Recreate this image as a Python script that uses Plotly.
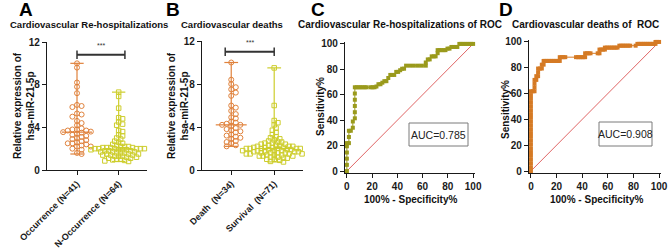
import plotly.graph_objects as go
import numpy as np

W, H = 669, 251

# ---------------- data ----------------
cat_A = ["Occurrence (N=41)", "N-Occurrence (N=64)"]
cat_B = ["Death  (N=34)", "Survival  (N=71)"]

occurrence = [10.0, 9.6, 8.2, 7.8, 7.2, 6.1, 6.0, 5.9, 5.3, 5.2, 5.0, 4.6, 4.4, 4.2,
              3.9, 3.8, 3.8, 3.7, 3.7, 3.6, 3.55, 3.5, 3.4, 3.3, 3.2, 3.1, 3.0, 2.9,
              2.8, 2.7, 2.6, 2.5, 2.5, 2.4, 2.3, 2.2, 2.2, 2.0, 1.9, 1.6, 1.5]
n_occurrence = [7.3, 6.9, 5.8, 4.9, 4.8, 4.5, 4.3, 4.2, 3.7, 3.6, 3.3, 3.2, 3.0, 2.9,
                2.7, 2.6, 2.5, 2.4, 2.3, 2.2, 2.2, 2.2, 2.1, 2.1, 2.1, 2.1,
                2.0, 2.0, 2.0, 2.0, 2.0, 2.0, 1.9, 1.9, 1.9, 1.9, 1.8, 1.8, 1.8,
                1.7, 1.7, 1.7, 1.6, 1.6, 1.6, 1.5, 1.5, 1.5, 1.4, 1.4, 1.4,
                1.3, 1.3, 1.3, 1.2, 1.2, 1.1, 1.1, 1.0, 1.0, 0.95, 0.9, 0.85, 0.8]
death = [10.0, 8.4, 8.0, 7.7, 7.5, 7.2, 6.9, 6.0, 5.8, 5.5, 5.2, 4.9, 4.8, 4.5,
         4.4, 4.3, 4.2, 4.2, 4.1, 3.9, 3.8, 3.7, 3.6, 3.5, 3.3, 3.2, 3.1, 3.0,
         2.9, 2.7, 2.6, 2.5, 2.3, 2.2]
survival = [9.5, 6.0, 4.6, 4.4, 4.2, 3.9, 3.7, 3.5, 3.3, 3.1, 3.0, 2.9, 2.8, 2.7,
            2.6, 2.6, 2.5, 2.5, 2.4, 2.4, 2.3, 2.3, 2.3, 2.2, 2.2, 2.2,
            2.1, 2.1, 2.1, 2.1, 2.0, 2.0, 2.0, 2.0, 2.0, 2.0,
            1.9, 1.9, 1.9, 1.9, 1.8, 1.8, 1.8, 1.8, 1.7, 1.7, 1.7, 1.7,
            1.6, 1.6, 1.6, 1.6, 1.5, 1.5, 1.5, 1.5, 1.4, 1.4, 1.4,
            1.3, 1.3, 1.3, 1.2, 1.2, 1.1, 1.1, 1.0, 1.0, 0.9, 0.8, 0.75]

roc_C = [(0, 0), (0, 4.9), (0, 9.8), (0, 14.6), (0, 19.5), (0, 22.0),
         (1.6, 22.0), (1.6, 26.8), (1.6, 31.7), (3.1, 31.7), (4.7, 34.1), (4.7, 39.0),
         (6.3, 41.5), (6.3, 46.3), (6.3, 51.2), (6.3, 56.1), (6.3, 61.0), (6.3, 65.9),
         (7.8, 65.9), (9.4, 65.9), (10.9, 65.9), (12.5, 65.9), (14.1, 65.9), (15.6, 65.9),
         (18.8, 65.9), (20.3, 65.9), (21.9, 65.9), (23.4, 66.5), (25.0, 68.3), (26.6, 68.3),
         (28.1, 69.5), (29.7, 70.7), (31.3, 70.7), (32.8, 73.2), (34.4, 75.6), (35.9, 75.6),
         (37.5, 75.6), (39.1, 78.0), (40.6, 78.0), (42.2, 79.3), (43.8, 80.5), (45.3, 80.5),
         (46.9, 82.9), (50.0, 82.9), (53.1, 82.9), (56.3, 82.9), (59.4, 82.9), (62.5, 82.9),
         (62.5, 85.4), (64.1, 87.8), (65.6, 87.8), (67.2, 90.2), (68.8, 90.2), (70.3, 90.2),
         (71.9, 92.7), (71.9, 95.1), (73.4, 95.1), (75.0, 95.1), (76.6, 95.1), (78.1, 95.1),
         (79.7, 96.3), (81.3, 96.3), (82.8, 97.6), (84.4, 97.6), (85.9, 97.6), (87.5, 97.6),
         (89.1, 100), (90.6, 100), (92.2, 100), (93.8, 100), (95.3, 100), (96.9, 100),
         (98.4, 100), (100, 100)]
roc_D = [(0, 0), (0, 2.9), (0, 5.9), (0, 8.8), (0, 11.8), (0, 14.7), (0, 17.6), (0, 20.6),
         (0, 23.5), (0, 26.5), (0, 29.4), (0, 32.4), (0, 35.3), (0, 38.2), (0, 41.2),
         (0, 44.1), (0, 47.1), (0, 50.0), (0, 52.9), (0, 55.9), (0, 58.8), (0, 61.8),
         (1.4, 61.8), (2.8, 61.8), (2.8, 64.7), (2.8, 67.6), (2.8, 70.6), (4.2, 70.6),
         (4.2, 73.5), (5.6, 73.5), (5.6, 76.5), (5.6, 79.4), (7.0, 79.4), (8.5, 79.4),
         (8.5, 82.4), (9.9, 82.4), (9.9, 85.3), (11.3, 85.3), (12.7, 85.3), (14.1, 85.3),
         (15.5, 85.3), (16.9, 85.3), (18.3, 85.3), (19.7, 85.3), (21.1, 85.3), (22.5, 85.3),
         (22.5, 88.2), (23.9, 88.2), (25.4, 88.2), (26.8, 88.2), (35.2, 88.2), (36.6, 88.2),
         (38.0, 88.2), (39.4, 88.2), (40.8, 88.2), (42.3, 88.2), (42.3, 91.2), (43.7, 91.2),
         (45.1, 91.2), (46.5, 91.2), (52.1, 91.2), (53.5, 91.2), (53.5, 94.1), (54.9, 94.1),
         (56.3, 94.1), (57.7, 94.1), (57.7, 95.6), (59.2, 95.6), (60.6, 95.6), (62.0, 95.6),
         (63.4, 95.6), (64.8, 95.6), (66.2, 95.6), (67.6, 95.6), (69.0, 97.1), (70.4, 97.1),
         (71.8, 97.1), (73.2, 97.1), (74.6, 97.1), (76.1, 97.1), (77.5, 97.1), (81.7, 97.1),
         (83.1, 98.5), (84.5, 98.5), (85.9, 98.5), (87.3, 98.5), (88.7, 98.5), (90.1, 98.5),
         (91.5, 98.5), (93.0, 98.5), (94.4, 98.5), (95.8, 98.5), (97.2, 98.5), (97.2, 100),
         (98.6, 100), (100, 100)]
auc_C = 0.785
auc_D = 0.908

titles = ["Cardiovascular Re-hospitalizations", "Cardiovascular deaths",
          "Cardiovascular Re-hospitalizations of ROC", "Cardiovascular deaths of  ROC"]
letters = ["A", "B", "C", "D"]

# ---------------- style ----------------
FONT = "Arial, Liberation Sans, sans-serif"
ORANGE = "#E0823C"
YELLOW = "#CDCD2C"
OLIVE = "#9A9A1C"
DORANGE = "#D57A24"
RED = "#E06565"
AXC = "#1a1a1a"


def px(x):
    return x / W


def py(y):
    return 1 - y / H


def swarm(vals, ky, kx, d):
    placed = []
    order = np.argsort(-np.array(vals))
    res = [0.0] * len(vals)
    cands = [0.0]
    for i in range(1, 60):
        cands += [i * d * 0.55, -i * d * 0.55]
    for idx in order:
        yy = vals[idx] * ky
        for c in cands:
            if all((c - a) ** 2 + (yy - b) ** 2 >= d * d for a, b in placed):
                break
        placed.append((c, yy))
        res[idx] = c / kx
    return res


fig = go.Figure()


def dot_group(xc, vals, color, symbol, xa, ya, ky, kx, d, size, med_w=0.36, cap_w=0.16):
    offs = swarm(vals, ky, kx, d)
    fig.add_trace(go.Scatter(
        x=[xc + o for o in offs], y=vals, mode="markers", xaxis=xa, yaxis=ya,
        marker=dict(symbol=symbol, size=size, color=color, line=dict(color=color, width=1)),
        cliponaxis=False, hoverinfo="skip"))
    lo, hi, med = min(vals), max(vals), float(np.median(vals))
    ln = dict(color=color, width=1.2)
    fig.add_trace(go.Scatter(x=[xc, xc], y=[lo, hi], mode="lines", line=ln, xaxis=xa, yaxis=ya, hoverinfo="skip"))
    for v, w in ((lo, cap_w), (hi, cap_w), (med, med_w)):
        fig.add_trace(go.Scatter(x=[xc - w, xc + w], y=[v, v], mode="lines", line=ln,
                                 xaxis=xa, yaxis=ya, hoverinfo="skip"))


# Panel A
dot_group(0, occurrence, ORANGE, "circle-open", "x", "y", 10.67, 41.7, 4.2, 5)
dot_group(1, n_occurrence, YELLOW, "square-open", "x", "y", 10.67, 41.7, 3.6, 4.5)
# Panel B
dot_group(0, death, ORANGE, "circle-open", "x2", "y2", 10.75, 43.3, 4.2, 5)
dot_group(1, survival, YELLOW, "square-open", "x2", "y2", 10.75, 43.3, 3.4, 4.5)

# ROC C / D
for roc, col, xa, ya in ((roc_C, OLIVE, "x3", "y3"), (roc_D, DORANGE, "x4", "y4")):
    fig.add_trace(go.Scatter(x=[0, 100], y=[0, 100], mode="lines", line=dict(color=RED, width=1),
                             xaxis=xa, yaxis=ya, hoverinfo="skip"))
    fig.add_trace(go.Scatter(x=[p[0] for p in roc], y=[p[1] for p in roc], mode="lines+markers",
                             line=dict(color=col, width=1),
                             marker=dict(symbol="square", size=4, color=col),
                             xaxis=xa, yaxis=ya, cliponaxis=False, hoverinfo="skip"))

tickfont = dict(family=FONT, size=10, color=AXC, weight="bold")
catfont = dict(family=FONT, size=9, color=AXC, weight="bold")
common = dict(showline=True, linecolor=AXC, linewidth=1.3, ticks="outside", ticklen=4,
              tickwidth=1.2, tickcolor=AXC, showgrid=False, zeroline=False,
              fixedrange=True)

fig.update_layout(
    width=W, height=H, margin=dict(l=0, r=0, t=0, b=0, autoexpand=False),
    paper_bgcolor="white", plot_bgcolor="white", showlegend=False,
    xaxis=dict(domain=[px(47), px(147)], range=[-0.72, 1.68], anchor="y",
               tickvals=[0, 1], ticktext=cat_A, tickangle=-45, tickfont=catfont, **common),
    yaxis=dict(domain=[py(170), py(42)], range=[0, 12], anchor="x",
               tickvals=[0, 4, 8, 12], tickfont=tickfont, **common),
    xaxis2=dict(domain=[px(202), px(303)], range=[-0.68, 1.67], anchor="y2",
                tickvals=[0, 1], ticktext=cat_B, tickangle=-45, tickfont=catfont, **common),
    yaxis2=dict(domain=[py(170), py(41)], range=[0, 12], anchor="x2",
                tickvals=[0, 4, 8, 12], tickfont=tickfont, **common),
    xaxis3=dict(domain=[px(345), px(475)], range=[-1.5, 101.5], anchor="y3",
                tickvals=[0, 20, 40, 60, 80, 100], tickfont=tickfont, **common),
    yaxis3=dict(domain=[py(173), py(42)], range=[-1.5, 101.5], anchor="x3",
                tickvals=[0, 20, 40, 60, 80, 100], tickfont=tickfont, **common),
    xaxis4=dict(domain=[px(529), px(661)], range=[-1.5, 101.5], anchor="y4",
                tickvals=[0, 20, 40, 60, 80, 100], tickfont=tickfont, **common),
    yaxis4=dict(domain=[py(173), py(40)], range=[-1.5, 101.5], anchor="x4",
                tickvals=[0, 20, 40, 60, 80, 100], tickfont=tickfont, **common),
)

# significance bars
for xa, ya, x0, x1, yv in (("x", "y", 0, 1.15, 10.8), ("x2", "y2", -0.14, 1.0, 11.0)):
    fig.add_shape(type="line", xref=xa, yref=ya, x0=x0, x1=x1, y0=yv, y1=yv,
                  line=dict(color="#333", width=2))
    for xx in (x0, x1):
        fig.add_shape(type="line", xref=xa, yref=ya, x0=xx, x1=xx, y0=yv - 0.4, y1=yv + 0.4,
                      line=dict(color="#333", width=1.5))
    fig.add_annotation(x=(x0 + x1) / 2, y=yv + 0.35, xref=xa, yref=ya, text="***",
                       showarrow=False, xanchor="center", yanchor="bottom",
                       font=dict(family=FONT, size=7, color="#333"))


def note(x, y, text, size, weight="bold", angle=0, color="#111"):
    fig.add_annotation(x=px(x), y=py(y), xref="paper", yref="paper", text=text,
                       showarrow=False, xanchor="center", yanchor="middle", textangle=angle,
                       font=dict(family=FONT, size=size, color=color, weight=weight))


# AUC boxes
for (x0, x1, y0, y1), auc in (((409, 468, 123, 146), auc_C), ((599, 652, 122, 146), auc_D)):
    fig.add_shape(type="rect", xref="paper", yref="paper", x0=px(x0), x1=px(x1),
                  y0=py(y1), y1=py(y0), line=dict(color="#7a7a7a", width=1))
    note((x0 + x1) / 2, (y0 + y1) / 2, f"AUC={auc}", 10.5, weight="normal", color="#222")

# titles and letters
for t, cx, fs in zip(titles, (89, 232, 400, 585), (9.5, 9.5, 10, 10)):
    note(cx, 24, t, fs)
for l, cx in zip(letters, (26, 173, 318, 506)):
    note(cx, 10, l, 19, color="#000")

# axis titles
for cx in (24, 178):
    note(cx, 106, "Relative expression of<br>hsa-miR-21-5p", 10, angle=-90)
for cx, cy in ((320, 107), (505, 110)):
    note(cx, cy, "Sensitivity%", 10, angle=-90)
for cx in (410, 596):
    note(cx, 199, "100% - Specificity%", 10)

fig.write_html("out.html", config={"displayModeBar": False},
               post_script="document.body.style.margin='0';document.body.style.padding='0';")
